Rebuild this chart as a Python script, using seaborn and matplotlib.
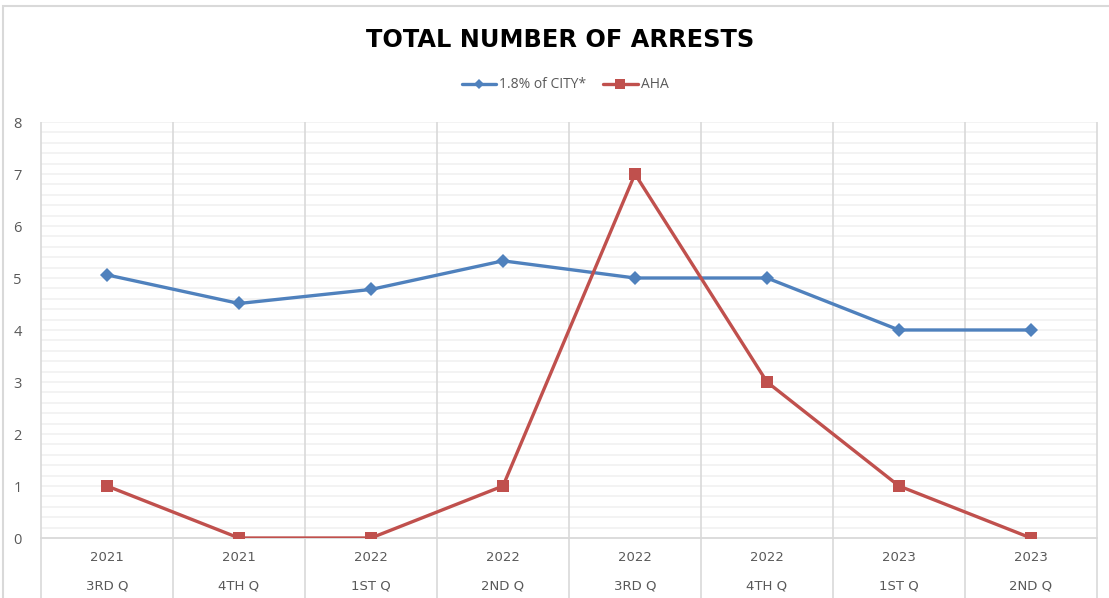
import matplotlib
matplotlib.use("Agg")
import matplotlib.pyplot as plt
import seaborn as sns
import pandas as pd
import numpy as np
from matplotlib.lines import Line2D

years = ["2021", "2021", "2022", "2022", "2022", "2022", "2023", "2023"]
quarters = ["3RD Q", "4TH Q", "1ST Q", "2ND Q", "3RD Q", "4TH Q", "1ST Q", "2ND Q"]
city_values = [5.06, 4.51, 4.78, 5.33, 5.0, 5.0, 4.0, 4.0]
aha_values = [1, 0, 0, 1, 7, 3, 1, 0]
series_names = ["1.8% of CITY*", "AHA"]

BLUE = "#4F81BD"
RED = "#C0504D"
GRAY = "#595959"

sns.set_theme(style="white")
plt.rcParams['font.family'] = ['Open Sans', 'DejaVu Sans']

n = len(years)
df = pd.DataFrame({
    "idx": list(range(n)) * 2,
    "value": city_values + aha_values,
    "series": [series_names[0]] * n + [series_names[1]] * n,
})

fig = plt.figure(figsize=(11.09, 5.98), dpi=100)
ax = fig.add_axes([41/1109, 1-538/598, (1097-41)/1109, (538-122)/598])

# horizontal gridlines (minor every 0.2)
for y in np.arange(0.2, 8.01, 0.2):
    ax.axhline(y, color="#F0F0F0", lw=1.1, zorder=0)

sns.lineplot(data=df, x="idx", y="value", hue="series", style="series",
             markers={series_names[0]: "D", series_names[1]: "s"},
             dashes=False, palette={series_names[0]: BLUE, series_names[1]: RED},
             markersize=8.5, markeredgewidth=0, linewidth=2.4, ax=ax, legend=False, zorder=3)
for ln in ax.lines:
    if ln.get_marker() == "D":
        ln.set_markersize(7.5)

ax.set_xlim(-0.5, n - 0.5)
ax.set_ylim(0, 8)
ax.set_yticks(range(0, 9))
ax.set_yticklabels([str(i) for i in range(9)], color=GRAY, fontsize=10.5)
ax.tick_params(axis="y", length=0, pad=14)
ax.set_xticks([])
ax.set_xlabel("")
ax.set_ylabel("")
for s in ["top", "right", "left"]:
    ax.spines[s].set_visible(False)
ax.spines["bottom"].set_color("#D9D9D9")
ax.spines["bottom"].set_linewidth(1.3)

# vertical category boundaries extending into label area
for b in np.arange(-0.5, n, 1.0):
    ax.vlines(b, -1.3, 8, color="#D9D9D9", lw=1.2, clip_on=False, zorder=1)

# two-level category labels
for i in range(n):
    ax.text(i, -0.38, years[i], ha="center", va="center", color=GRAY, fontsize=9.5,
            family="DejaVu Sans")
    ax.text(i, -0.92, quarters[i], ha="center", va="center", color=GRAY, fontsize=9.5,
            family="DejaVu Sans")

# title
fig.text(560/1109, 1-40/598, "TOTAL NUMBER OF ARRESTS", ha="center", va="center",
         fontsize=17.3, fontweight="bold", color="black", family="DejaVu Sans")

# legend
handles = [Line2D([], [], color=BLUE, marker="D", lw=2.4, markersize=5.5, markeredgewidth=0),
           Line2D([], [], color=RED, marker="s", lw=2.4, markersize=6.5, markeredgewidth=0)]
fig.legend(handles, series_names, loc="center", bbox_to_anchor=(565/1109, 1-85/598),
           ncol=2, frameon=False, fontsize=10, handlelength=2.5, handletextpad=0.2,
           columnspacing=1.2, labelcolor=GRAY)

# chart border
fig.add_artist(plt.Rectangle((3/1109, -0.01), 1.1, 1-6/598+0.01, transform=fig.transFigure,
                             fill=False, edgecolor="#D9D9D9", lw=1.5))

fig.savefig("out.png", dpi=100)
